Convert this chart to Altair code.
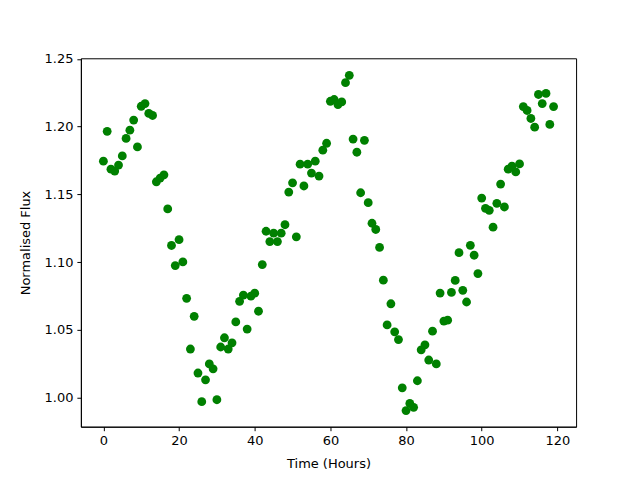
import altair as alt
import pandas as pd

hours = list(range(120))
flux = [
    1.1745, 1.1965, 1.1686, 1.1672, 1.1716, 1.1784, 1.1913, 1.1974, 1.2048, 1.1850,
    1.2150, 1.2170, 1.2097, 1.2082, 1.1593, 1.1620, 1.1644, 1.1393, 1.1123, 1.0975,
    1.1166, 1.1002, 1.0733, 1.0359, 1.0600, 1.0182, 0.9971, 1.0132, 1.0249, 1.0213,
    0.9985, 1.0374, 1.0442, 1.0359, 1.0405, 1.0559, 1.0711, 1.0757, 1.0506, 1.0749,
    1.0771, 1.0638, 1.0982, 1.1228, 1.1152, 1.1214, 1.1152, 1.1214, 1.1276, 1.1517,
    1.1585, 1.1187, 1.1723, 1.1562, 1.1723, 1.1657, 1.1745, 1.1635, 1.1826, 1.1877,
    1.2187, 1.2200, 1.2163, 1.2182, 1.2324, 1.2378, 1.1908, 1.1811, 1.1512, 1.1899,
    1.1439, 1.1287, 1.1241, 1.1109, 1.0867, 1.0537, 1.0693, 1.0486, 1.0429, 1.0073,
    0.9905, 0.9958, 0.9929, 1.0125, 1.0353, 1.0390, 1.0278, 1.0491, 1.0249, 1.0772,
    1.0565, 1.0572, 1.0777, 1.0865, 1.1070, 1.0792, 1.0706, 1.1124, 1.1051, 1.0916,
    1.1473, 1.1397, 1.1382, 1.1258, 1.1434, 1.1576, 1.1407, 1.1686, 1.1708, 1.1666,
    1.1725, 1.2148, 1.2119, 1.2060, 1.1996, 1.2237, 1.2170, 1.2245, 1.2016, 1.2148,
]
x_ticks = [0, 20, 40, 60, 80, 100, 120]
y_ticks = [1.00, 1.05, 1.10, 1.15, 1.20, 1.25]

df = pd.DataFrame({"t": hours, "flux": flux})

font = "DejaVu Sans"
axis_common = dict(
    grid=False,
    domain=True,
    domainColor="black",
    domainWidth=1,
    tickColor="black",
    tickSize=4,
    tickWidth=1,
    labelColor="black",
    labelFont=font,
    labelFontSize=13,
    titleFont=font,
    titleFontSize=13,
    titleFontWeight="normal",
    titleColor="black",
)

chart = alt.Chart(df).mark_circle(size=78, color="#008000", opacity=1).encode(
    x=alt.X("t:Q",
            scale=alt.Scale(domain=[-5.95, 124.95], nice=False, zero=False),
            axis=alt.Axis(values=x_ticks, title="Time (Hours)", labelPadding=4,
                          titlePadding=10, **axis_common)),
    y=alt.Y("flux:Q",
            scale=alt.Scale(domain=[0.9786, 1.2504], nice=False, zero=False),
            axis=alt.Axis(values=y_ticks, format=".2f", title="Normalised Flux",
                          labelPadding=4, titlePadding=12, **axis_common)),
).properties(
    width=496,
    height=369,
    autosize=alt.AutoSizeParams(type="none"),
    padding={"left": 73, "top": 50, "right": 56, "bottom": 45},
).configure(
    background="white",
    view=alt.ViewConfig(stroke="black", strokeWidth=1),
)

chart.save("out.html", embed_options={"renderer": "svg", "actions": False})
